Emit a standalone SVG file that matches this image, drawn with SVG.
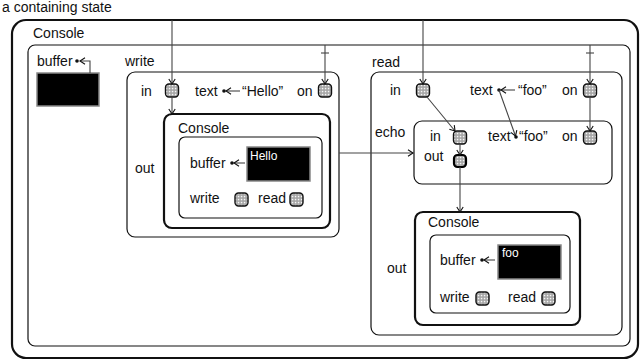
<svg xmlns="http://www.w3.org/2000/svg" width="641" height="360" viewBox="0 0 641 360">
  <defs>
    <pattern id="dots" width="3" height="3" patternUnits="userSpaceOnUse">
      <rect width="3" height="3" fill="#a4a4a4"/>
      <rect x="0.8" y="0.8" width="1.5" height="1.5" fill="#f6f6f6"/>
    </pattern>
    <marker id="arr" markerWidth="8" markerHeight="8" refX="6" refY="4" orient="auto" markerUnits="userSpaceOnUse">
      <path d="M1,0.8 L6,4 L1,7.2" fill="none" stroke="#111" stroke-width="1.1"/>
    </marker>
    <style>
      text { font-family: "Liberation Sans", Arial, sans-serif; font-size: 14px; fill: #111; }
      .small { font-size: 12px; fill: #fff; }
      .state { fill: none; stroke: #111; stroke-width: 1.2; }
      .bold { fill: none; stroke: #111; stroke-width: 2.2; }
      .buf { fill: #000; stroke: #888; stroke-width: 1.5; }
      .port { fill: url(#dots); stroke: #111; stroke-width: 1.4; }
      .portb { fill: url(#dots); stroke: #000; stroke-width: 2.2; }
      .edge { fill: none; stroke: #444; stroke-width: 1.1; }
      .dot { fill: #111; }
    </style>
  </defs>

  <text x="2" y="12">a containing state</text>

  <!-- outer Console state and its region -->
  <g id="console">
    <rect class="bold" x="12" y="20" width="626" height="338" rx="14"/>
    <text x="33" y="38">Console</text>
    <rect class="state" x="28" y="45" width="602" height="301" rx="7"/>
    <text x="37" y="66">buffer</text>
    <circle class="dot" cx="77" cy="61" r="1.8"/>
    <rect class="buf" x="37" y="73" width="62" height="33"/>
  </g>

  <!-- write state -->
  <g id="write">
    <text x="125" y="66">write</text>
    <rect class="state" x="127" y="72" width="212" height="165" rx="8"/>
    <text x="141" y="96">in</text>
    <rect class="port" x="165.5" y="84" width="13" height="13" rx="3.5"/>
    <text x="195" y="96">text</text>
    <circle class="dot" cx="224" cy="91" r="1.8"/>
    <text x="242" y="96">“Hello”</text>
    <text x="297" y="96">on</text>
    <rect class="port" x="318.5" y="84" width="13" height="13" rx="3.5"/>
    <text x="135" y="173">out</text>
  </g>

  <g id="write-console">
    <rect class="bold" x="164" y="114" width="166" height="114" rx="8"/>
    <text x="178" y="133">Console</text>
    <rect class="state" x="179" y="137" width="143" height="81" rx="6"/>
    <text x="190" y="168">buffer</text>
    <circle class="dot" cx="232" cy="163" r="1.8"/>
    <rect class="buf" x="247" y="147" width="63" height="34"/>
    <text class="small" x="250" y="160">Hello</text>
    <text x="190" y="203">write</text>
    <rect class="port" x="235" y="193" width="13" height="13" rx="3.5"/>
    <text x="258" y="203">read</text>
    <rect class="port" x="290" y="193" width="13" height="13" rx="3.5"/>
  </g>

  <!-- read state -->
  <g id="read">
    <text x="372" y="67">read</text>
    <rect class="state" x="371" y="72" width="251" height="263" rx="8"/>
    <text x="390" y="95">in</text>
    <rect class="port" x="416.5" y="84" width="13" height="13" rx="3.5"/>
    <text x="470" y="95">text</text>
    <circle class="dot" cx="499" cy="90" r="1.8"/>
    <text x="518" y="95">“foo”</text>
    <text x="562" y="95">on</text>
    <rect class="port" x="583.5" y="84" width="13" height="13" rx="3.5"/>
    <text x="387" y="273">out</text>
  </g>

  <g id="echo">
    <text x="375" y="137">echo</text>
    <rect class="state" x="414" y="121" width="198" height="63" rx="8"/>
    <text x="430" y="141">in</text>
    <rect class="port" x="453.5" y="131" width="13" height="13" rx="3.5"/>
    <text x="488" y="141">text</text>
    <circle class="dot" cx="516" cy="137" r="1.8"/>
    <text x="519" y="141">“foo”</text>
    <text x="562" y="141">on</text>
    <rect class="port" x="583.5" y="131" width="13" height="13" rx="3.5"/>
    <text x="424" y="161">out</text>
    <rect class="portb" x="454" y="155" width="12" height="12" rx="3.5"/>
  </g>

  <g id="read-console">
    <rect class="bold" x="415" y="212" width="165" height="113" rx="8"/>
    <text x="428" y="227">Console</text>
    <rect class="state" x="430" y="235" width="140" height="78" rx="6"/>
    <text x="440" y="265">buffer</text>
    <circle class="dot" cx="482" cy="260" r="1.8"/>
    <rect class="buf" x="498" y="245" width="63" height="34"/>
    <text class="small" x="502" y="257">foo</text>
    <text x="440" y="302">write</text>
    <rect class="port" x="476" y="292" width="13" height="13" rx="3.5"/>
    <text x="508" y="302">read</text>
    <rect class="port" x="542" y="292" width="13" height="13" rx="3.5"/>
  </g>

  <!-- connectors -->
  <g id="connectors">
    <path class="edge" d="M90,73 V61 H80" marker-end="url(#arr)"/>
    <path class="edge" d="M172,20 V84" marker-end="url(#arr)"/>
    <path class="edge" d="M172,97 V114" marker-end="url(#arr)"/>
    <path class="edge" d="M240,91 H226" marker-end="url(#arr)"/>
    <path class="edge" d="M325,45 V84" marker-end="url(#arr)"/>
    <path class="edge" d="M321,53 H329"/>
    <path class="edge" d="M245,163 H234" marker-end="url(#arr)"/>
    <path class="edge" d="M339,153 H413" marker-end="url(#arr)"/>

    <path class="edge" d="M423,20 V84" marker-end="url(#arr)"/>
    <path class="edge" d="M515,90 H501" marker-end="url(#arr)"/>
    <path class="edge" d="M590,45 V84" marker-end="url(#arr)"/>
    <path class="edge" d="M586,53 H594"/>
    <path class="edge" d="M427,97 L455,131" marker-end="url(#arr)"/>
    <path class="edge" d="M499,90 L515.5,136" marker-end="url(#arr)"/>
    <path class="edge" d="M590,97 V131" marker-end="url(#arr)"/>
    <path class="edge" d="M460,144 V155" marker-end="url(#arr)"/>
    <path class="edge" d="M460,167 V212" marker-end="url(#arr)"/>
    <path class="edge" d="M495,260 H484" marker-end="url(#arr)"/>
  </g>
</svg>
